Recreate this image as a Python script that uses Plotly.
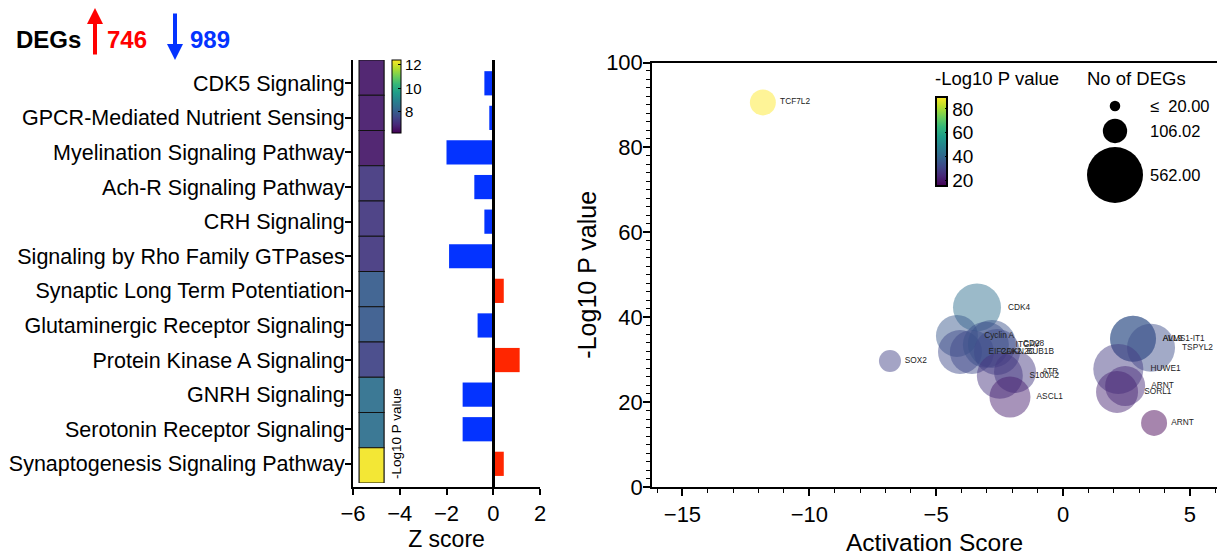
import plotly.graph_objects as go

W, H = 1217, 556
FONT = "Liberation Sans, Arial, Helvetica, sans-serif"

# ---------------- left panel data ----------------
pathways = [
    "CDK5 Signaling",
    "GPCR-Mediated Nutrient Sensing",
    "Myelination Signaling Pathway",
    "Ach-R Signaling Pathway",
    "CRH Signaling",
    "Signaling by Rho Family GTPases",
    "Synaptic Long Term Potentiation",
    "Glutaminergic Receptor Signaling",
    "Protein Kinase A Signaling",
    "GNRH Signaling",
    "Serotonin Receptor Signaling",
    "Synaptogenesis Signaling Pathway",
]
z_scores = [-0.38, -0.17, -2.0, -0.81, -0.38, -1.89, 0.45, -0.67, 1.13, -1.31, -1.31, 0.45]
pathway_logp = [6.6, 6.65, 6.6, 7.2, 7.2, 7.2, 8.0, 7.95, 7.45, 8.45, 8.45, 12.3]
z_ticks = [-6, -4, -2, 0, 2]
pathway_cbar_ticks = [8, 10, 12]

up_count = 746
down_count = 989

# ---------------- right panel data ----------------
reg_names = ["TCF7L2", "SOX2", "CDK4", "Cyclin A", "EIF2AK2", "CDKN2C", "ITGAV", "CD28",
             "BUB1B", "S100A2", "ATR", "ASCL1", "ALMS1-IT1", "AVL9", "TSPYL2", "HUWE1",
             "ARNT", "SORL1", "ARNT"]
act_scores = [-11.83, -6.82, -3.39, -4.18, -4.06, -3.59, -3.04, -2.80,
              -2.60, -2.49, -1.89, -2.09, 2.76, 2.76, 3.47, 2.18,
              2.45, 2.13, 3.59]
reg_logp = [90.6, 29.7, 42.3, 35.6, 31.8, 31.8, 33.5, 33.7,
            31.8, 26.2, 27.1, 21.2, 34.9, 34.9, 32.8, 27.8,
            23.8, 22.4, 15.1]
reg_degs = [121, 87, 413, 316, 347, 347, 379, 413,
            379, 379, 316, 301, 379, 379, 413, 449,
            287, 316, 121]
act_ticks = [-15, -10, -5, 0, 5]
logp_ticks = [0, 20, 40, 60, 80, 100]
bubble_cbar_ticks = [20, 40, 60, 80]
size_legend_vals = [20, 106.02, 562]
size_legend_labels = ["≤  20.00", "106.02", "562.00"]

# ---------------- layout constants ----------------
def px_x(p):
    return p / W

def px_y(p):
    return 1 - p / H

HEAT_X0, HEAT_X1 = -5.74, -4.67
SIZEREF = 0.3584
BUBBLE_OPACITY = 0.48

fig = go.Figure()

# heatmap column (drawn as full-width bars with black borders)
fig.add_trace(go.Bar(
    y=pathways, x=[HEAT_X1 - HEAT_X0] * len(pathways), base=HEAT_X0,
    orientation="h", width=1.0, xaxis="x", yaxis="y4",
    marker=dict(
        color=pathway_logp, colorscale="Viridis", cmin=6.2, cmax=12.4,
        line=dict(color="black", width=1.2),
        showscale=True,
        colorbar=dict(
            x=px_x(392), xanchor="left", xpad=0,
            y=px_y(60), yanchor="top", ypad=0,
            len=73, lenmode="pixels", thickness=9,
            outlinewidth=1, outlinecolor="black",
            tickvals=pathway_cbar_ticks, ticks="inside", ticklen=3,
            tickcolor="black", tickfont=dict(size=15, color="black", family=FONT),
        ),
    ),
    opacity=0.93,
    hoverinfo="skip", showlegend=False,
))

# z-score bars
fig.add_trace(go.Bar(
    y=pathways, x=z_scores, orientation="h", width=0.7,
    xaxis="x", yaxis="y",
    marker=dict(color=["#FF2600" if v > 0 else "#0433FF" for v in z_scores], line=dict(width=0)),
    showlegend=False,
))

# bubbles
fig.add_trace(go.Scatter(
    x=act_scores, y=reg_logp, mode="markers+text", text=reg_names,
    textposition="middle right", xaxis="x2", yaxis="y2",
    textfont=dict(size=8.3, color="#222222", family=FONT),
    marker=dict(
        size=reg_degs, sizemode="area", sizeref=SIZEREF,
        color=reg_logp, colorscale="Viridis", cmin=15, cmax=90,
        opacity=BUBBLE_OPACITY, line=dict(width=0),
        showscale=True,
        colorbar=dict(
            x=px_x(936), xanchor="left", xpad=0,
            y=px_y(97), yanchor="top", ypad=0,
            len=89, lenmode="pixels", thickness=11,
            outlinewidth=2, outlinecolor="black",
            tickvals=bubble_cbar_ticks, ticks="inside", ticklen=3,
            tickcolor="black", tickfont=dict(size=19, color="black", family=FONT),
        ),
    ),
    showlegend=False,
))

# size legend
legend_y_px = [106, 131, 175]
fig.add_trace(go.Scatter(
    x=[1115] * len(size_legend_vals), y=legend_y_px, mode="markers",
    xaxis="x3", yaxis="y3",
    marker=dict(size=size_legend_vals, sizemode="area", sizeref=SIZEREF,
                color="black", opacity=1, line=dict(width=0)),
    hoverinfo="skip", showlegend=False,
))

axis_common = dict(showgrid=False, linecolor="black", tickcolor="black",
                   automargin=False, fixedrange=True)

fig.update_layout(
    width=W, height=H,
    margin=dict(l=0, r=0, t=0, b=0),
    paper_bgcolor="white", plot_bgcolor="rgba(0,0,0,0)",
    barmode="overlay",
    font=dict(family=FONT, color="black"),
    xaxis=dict(
        domain=[px_x(353), px_x(540)], range=[-6, 2], anchor="y",
        tickvals=z_ticks, ticks="outside", ticklen=6, tickwidth=1.5,
        showline=True, linewidth=1.5,
        zeroline=True, zerolinecolor="black", zerolinewidth=2.5,
        tickfont=dict(size=22), title=dict(text="Z score", font=dict(size=23), standoff=2),
        **axis_common,
    ),
    yaxis=dict(
        domain=[px_y(487), px_y(60)], range=[11.67, -0.673], anchor="x",
        type="category", categoryarray=pathways, categoryorder="array",
        ticks="outside", ticklen=6, tickwidth=1.5, showline=True, linewidth=2,
        tickfont=dict(size=21.5), zeroline=False, ticklabelstandoff=-4,
        **axis_common,
    ),
    yaxis4=dict(
        domain=[px_y(483), px_y(60)], range=[11.5, -0.5], anchor="x",
        type="category", categoryarray=pathways, categoryorder="array",
        visible=False, showgrid=False, fixedrange=True,
    ),
    xaxis2=dict(
        domain=[px_x(652), 1.0], range=[-16.2, 6.07], anchor="y2",
        tickvals=act_ticks, ticks="outside", ticklen=7, tickwidth=1.5,
        minor=dict(ticks="outside", dtick=1, ticklen=4, tickcolor="black", tickwidth=1.2),
        showline=True, linewidth=1.5, mirror=True, zeroline=False,
        tickfont=dict(size=22),
        title=dict(text="Activation Score", font=dict(size=24.5), standoff=10),
        **axis_common,
    ),
    yaxis2=dict(
        domain=[px_y(487), px_y(62.5)], range=[0, 100], anchor="x2",
        tickvals=logp_ticks, ticks="outside", ticklen=7, tickwidth=1.5,
        minor=dict(ticks="outside", dtick=2, ticklen=4, tickcolor="black", tickwidth=1.2),
        showline=True, linewidth=1.5, zeroline=False, ticklabelstandoff=-4,
        tickfont=dict(size=22),
        title=dict(text="-Log10 P value", font=dict(size=25), standoff=2),
        **axis_common,
    ),
    xaxis3=dict(domain=[px_x(1080), 1.0], range=[1080, 1217], anchor="y3",
                visible=False, fixedrange=True),
    yaxis3=dict(domain=[px_y(215), px_y(90)], range=[215, 90], anchor="x3",
                visible=False, fixedrange=True),
)

annotations = [
    dict(text="<b>DEGs</b>", x=px_x(14), y=px_y(39), xref="paper", yref="paper",
         xanchor="left", yanchor="middle", showarrow=False, font=dict(size=24, color="black")),
    dict(text="", x=px_x(95), y=px_y(8), xref="paper", yref="paper",
         showarrow=True, ax=0, ay=48, arrowcolor="#FF0000", arrowwidth=4,
         arrowhead=2, arrowsize=0.8, standoff=0, startstandoff=0),
    dict(text=f"<b>{up_count}</b>", x=px_x(105), y=px_y(39), xref="paper", yref="paper",
         xanchor="left", yanchor="middle", showarrow=False, font=dict(size=24, color="#FF0000")),
    dict(text="", x=px_x(175), y=px_y(60), xref="paper", yref="paper",
         showarrow=True, ax=0, ay=-48, arrowcolor="#0433FF", arrowwidth=4,
         arrowhead=2, arrowsize=0.8, standoff=0, startstandoff=0),
    dict(text=f"<b>{down_count}</b>", x=px_x(188), y=px_y(39), xref="paper", yref="paper",
         xanchor="left", yanchor="middle", showarrow=False, font=dict(size=24, color="#0433FF")),
    dict(text="-Log10 P value", x=px_x(396), y=px_y(434), xref="paper", yref="paper",
         xanchor="center", yanchor="middle",
         textangle=-90, showarrow=False, font=dict(size=13.5, color="black")),
    dict(text="-Log10 P value", x=px_x(933), y=px_y(78), xref="paper", yref="paper",
         xanchor="left", yanchor="middle", showarrow=False, font=dict(size=18.5, color="black")),
    dict(text="No of DEGs", x=px_x(1085), y=px_y(78), xref="paper", yref="paper",
         xanchor="left", yanchor="middle", showarrow=False, font=dict(size=18.5, color="black")),
]
for lab, yy in zip(size_legend_labels, legend_y_px):
    annotations.append(dict(text=lab, x=1148, y=yy, xref="x3", yref="y3",
                            xanchor="left", yanchor="middle", showarrow=False,
                            font=dict(size=16.5, color="black")))
fig.update_layout(annotations=annotations)

fig.write_html(
    "out.html",
    config={"displayModeBar": False},
    post_script="document.body.style.margin='0';document.body.style.overflow='hidden';",
)
